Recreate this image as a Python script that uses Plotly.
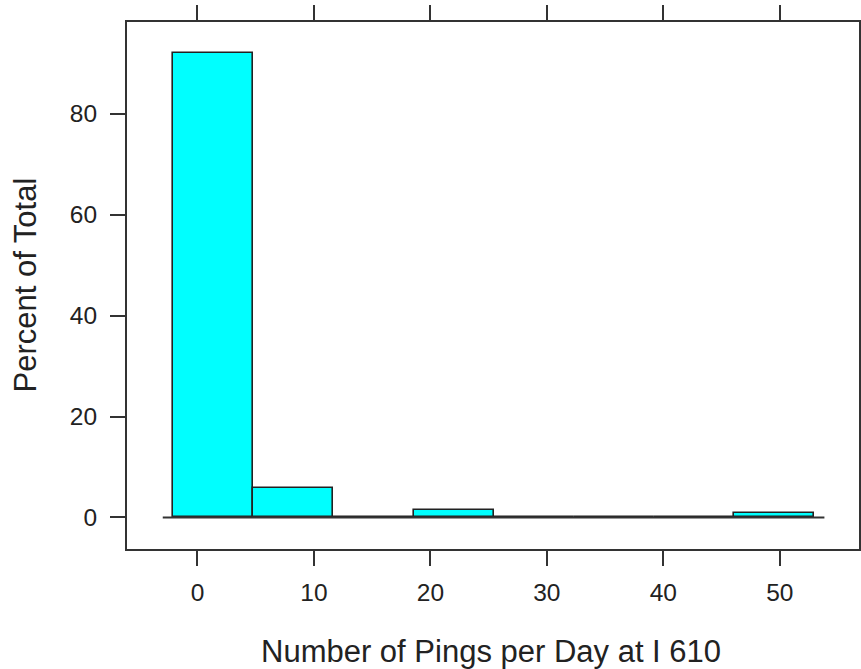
import plotly.graph_objects as go

# Histogram of daily ping counts (percent of total per bin)
bin_start = -2.09
bin_width = 6.88
percent = [92.0, 5.8, 0.0, 1.4, 0.0, 0.0, 0.0, 0.8]
x_ticks = [0, 10, 20, 30, 40, 50]
y_ticks = [0, 20, 40, 60, 80]

centers = [bin_start + bin_width * (i + 0.5) for i in range(len(percent))]
axis_col = "#333333"
text_col = "#222222"
font_fam = "Arial, Liberation Sans, sans-serif"

fig = go.Figure()

# horizontal reference line at zero spanning the data range
fig.add_trace(go.Scatter(
    x=[-2.98, 53.83], y=[0, 0], mode="lines",
    line=dict(color=axis_col, width=2), hoverinfo="skip", showlegend=False,
))

fig.add_trace(go.Bar(
    x=centers, y=percent, width=bin_width,
    marker=dict(color="#00FFFF", line=dict(color="#222222", width=1.6)),
    showlegend=False,
))

axis_common = dict(
    ticks="outside", ticklen=15, tickwidth=2, tickcolor=axis_col,
    showline=True, linecolor=axis_col, linewidth=2, mirror="ticks",
    showgrid=False, zeroline=False, automargin=False,
    tickfont=dict(size=24.5, family=font_fam, color=text_col),
)

fig.update_layout(
    width=861, height=669,
    margin=dict(l=127, r=2, t=22, b=120),
    plot_bgcolor="white", paper_bgcolor="white",
    font=dict(family=font_fam, color=text_col),
    bargap=0,
    xaxis=dict(range=[-6.05, 56.8], tickvals=x_ticks, ticklabelstandoff=6,
               **axis_common),
    yaxis=dict(range=[-6.26, 98.2], tickvals=y_ticks, ticklabelstandoff=8,
               **axis_common),
    annotations=[
        dict(text="Number of Pings per Day at I 610", xref="paper", yref="paper",
             x=0.497, y=0, xanchor="center", yanchor="middle", yshift=-102,
             showarrow=False, font=dict(size=31, family=font_fam, color=text_col)),
        dict(text="Percent of Total", xref="paper", yref="paper",
             x=0, y=0.5, xanchor="center", yanchor="middle", xshift=-102,
             textangle=-90, showarrow=False,
             font=dict(size=31, family=font_fam, color=text_col)),
    ],
)

fig.write_html("out.html")
